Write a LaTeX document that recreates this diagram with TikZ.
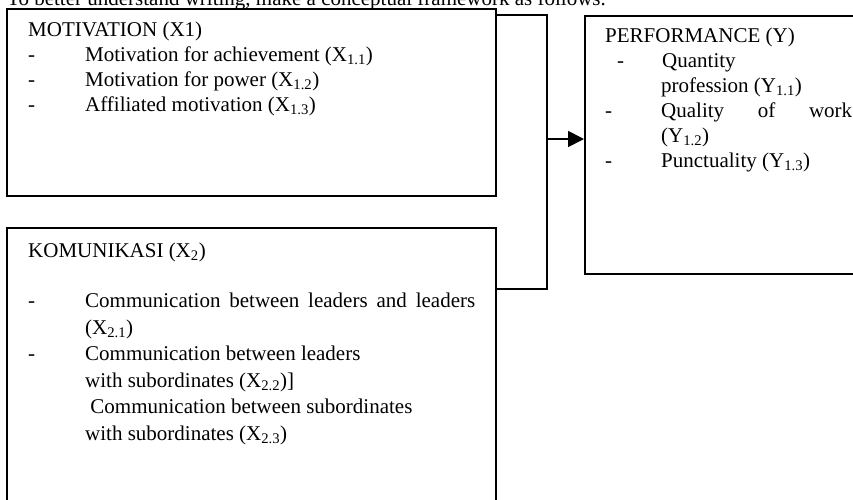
\documentclass[tikz,border=0pt]{standalone}
\usepackage{fontspec}
\setmainfont{Liberation Serif}
\usetikzlibrary{positioning,arrows.meta,calc}
\tikzstyle{bx}=[draw=black,line width=1.8pt,anchor=north west,inner sep=0pt]
\tikzstyle{tx}=[anchor=north west,align=left,inner sep=0pt,font=\fontsize{21}{25}\selectfont]
\tikzstyle{ln}=[draw=black,line width=1.8pt]
\newcommand\dsh[1][57pt]{\makebox[#1][l]{-}}
\newcommand\ind[1][57pt]{\hspace*{#1}}
\begin{document}
\begin{tikzpicture}[x=1pt,y=-1pt]
\useasboundingbox (0,0) rectangle (853,499);
\clip (0,0) rectangle (853,499);
% heading line, cut at the top
\node[anchor=base west,inner sep=0pt,font=\fontsize{21}{25}\selectfont] (intro) at (7,5)
  {To better understand writing, make a conceptual framework as follows.};
% boxes
\node[bx,minimum width=489pt,minimum height=187pt] (mot) at (6,8) {};
\node[bx,minimum width=489pt,minimum height=300pt] (kom) at (6,227) {};
\node[bx,minimum width=300pt,minimum height=258pt] (perf) at (584,15) {};
% box texts
\node[tx] (motT) at ([shift={(22,13.5)}]mot.north west) {MOTIVATION (X1)\\
  \dsh Motivation for achievement (X\textsubscript{1.1})\\
  \dsh Motivation for power (X\textsubscript{1.2})\\
  \dsh Affiliated motivation (X\textsubscript{1.3})};
\node[tx,font=\fontsize{21}{26.5}\selectfont] (komT) at ([shift={(22,15.5)}]kom.north west)
  {KOMUNIKASI (X\textsubscript{2})\\[24pt]
  \dsh\makebox[390pt][s]{Communication between leaders and leaders}\\
  \ind(X\textsubscript{2.1})\\
  \dsh Communication between leaders\\
  \ind with subordinates (X\textsubscript{2.2})]\\
  \ind\ Communication between subordinates\\
  \ind with subordinates (X\textsubscript{2.3})};
\node[tx] (perfT) at ([shift={(21,12.5)}]perf.north west) {PERFORMANCE (Y)\\
  \ind[12pt]\dsh[45pt]Quantity\\
  \ind[56pt]profession (Y\textsubscript{1.1})\\
  \dsh[56pt]\makebox[191pt][s]{Quality of work}\\
  \ind[56pt](Y\textsubscript{1.2})\\
  \dsh[56pt]Punctuality (Y\textsubscript{1.3})};
% connector
\coordinate (jt) at (547,15);
\coordinate (ja) at (547,139);
\coordinate (jb) at (547,289);
\draw[ln] (mot.east |- jt) -- (jt) -- (jb) -- (kom.east |- jb);
\draw[ln,-{Triangle[length=16pt,width=16pt]}] (ja) -- (ja -| perf.west);
\end{tikzpicture}
\end{document}
